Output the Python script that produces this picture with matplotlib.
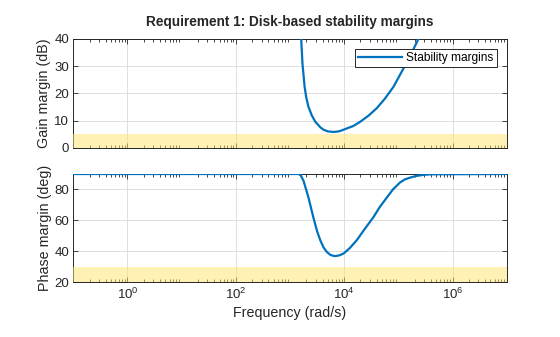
import matplotlib
matplotlib.use('Agg')
import matplotlib.pyplot as plt
import numpy as np
from matplotlib.ticker import LogLocator, NullFormatter, FixedLocator

plt.rcParams['font.family'] = ['Liberation Sans', 'DejaVu Sans']
plt.rcParams['mathtext.fontset'] = 'custom'
plt.rcParams['mathtext.rm'] = 'Liberation Sans'

# gain margin curve (log10 of rad/s, dB)
gm_logw = [3.19, 3.207, 3.23, 3.27, 3.30, 3.34, 3.40, 3.465, 3.56, 3.62, 3.70, 3.80,
           3.90, 3.96, 4.05, 4.17, 4.30, 4.45, 4.60, 4.75, 4.91, 5.03, 5.20, 5.37, 5.45]
gm_db = [48, 40, 31, 22.4, 18.5, 15.1, 12.0, 9.6, 7.5, 6.6, 6.0, 5.8,
         6.0, 6.4, 7.1, 8.0, 9.6, 11.8, 14.5, 18.0, 22.4, 26.8, 33, 40, 44]

# phase margin curve (log10 of rad/s, deg)
pm_logw = [-1, 3.16, 3.20, 3.25, 3.34, 3.43, 3.50, 3.56, 3.62, 3.68, 3.75, 3.83, 3.91,
           3.99, 4.10, 4.23, 4.38, 4.54, 4.66, 4.79, 4.90, 5.03, 5.12, 5.22, 5.34,
           5.46, 5.6, 7]
pm_deg = [90, 90, 89, 85.6, 74.9, 62.1, 53, 47.1, 42.5, 39.6, 37.6, 36.9, 37.4,
          38.6, 42, 47.1, 54.5, 62.1, 68.8, 74.9, 80, 84.5, 86.5, 87.7, 88.8,
          89.4, 89.8, 90]

xtick_vals = [1e0, 1e2, 1e4, 1e6]
gm_req = 5    # dB, shaded region below
pm_req = 30   # deg
xlim = (1e-1, 1e7)

line_col = '#0072BD'
band_col = (1.0, 0.89, 0.42)
txt_col = '#262626'

fig = plt.figure(figsize=(5.6, 3.37), dpi=100)
ax1 = fig.add_axes([0.1309, 0.5617, 0.7739, 0.3226])
ax2 = fig.add_axes([0.1309, 0.1623, 0.7739, 0.3214])


def style(ax):
    ax.set_xscale('log')
    ax.set_xlim(*xlim)
    ax.xaxis.set_major_locator(FixedLocator(xtick_vals))
    ax.xaxis.set_minor_locator(LogLocator(base=10.0, subs=np.arange(2, 10), numticks=20))
    ax.xaxis.set_minor_formatter(NullFormatter())
    ax.tick_params(which='both', direction='in', top=True, right=True,
                   labelsize=9.5, colors=txt_col, width=0.6, pad=3)
    ax.tick_params(which='major', length=3.5)
    ax.tick_params(which='minor', length=2)
    ax.grid(True, which='major', color='#d9d9d9', linewidth=0.6)
    ax.set_axisbelow(True)
    for s in ax.spines.values():
        s.set_linewidth(0.7)
        s.set_color(txt_col)


style(ax1)
ax1.set_ylim(0, 40)
ax1.set_yticks([0, 10, 20, 30, 40])
ax1.tick_params(labelbottom=False)
ax1.axhspan(0, gm_req, color=band_col, alpha=0.5, lw=0, zorder=3)
ax1.plot(np.power(10.0, gm_logw), gm_db, color=line_col, lw=1.6, zorder=4,
         label='Stability margins')
ax1.set_ylabel('Gain margin (dB)', fontsize=10.3, color=txt_col, labelpad=2)
leg = ax1.legend(loc='upper right', fontsize=8.6, frameon=True, fancybox=False,
                 edgecolor=txt_col, framealpha=1, handlelength=3.7,
                 borderpad=0.25, borderaxespad=0.85, handletextpad=0.35)
leg.get_frame().set_linewidth(0.7)
leg.set_zorder(5)
ax1.set_title('Requirement 1: Disk-based stability margins', fontsize=9.8,
              fontweight='bold', color=txt_col, pad=9)

style(ax2)
ax2.set_ylim(20, 90)
ax2.set_yticks([20, 40, 60, 80])
ax2.axhspan(20, pm_req, color=band_col, alpha=0.5, lw=0, zorder=3)
ax2.plot(np.power(10.0, pm_logw), pm_deg, color=line_col, lw=1.6, zorder=4)
ax2.set_ylabel('Phase margin (deg)', fontsize=10.3, color=txt_col, labelpad=2)
ax2.set_xlabel('Frequency (rad/s)', fontsize=10.3, color=txt_col, labelpad=3)

fig.savefig('out.png', dpi=100)
